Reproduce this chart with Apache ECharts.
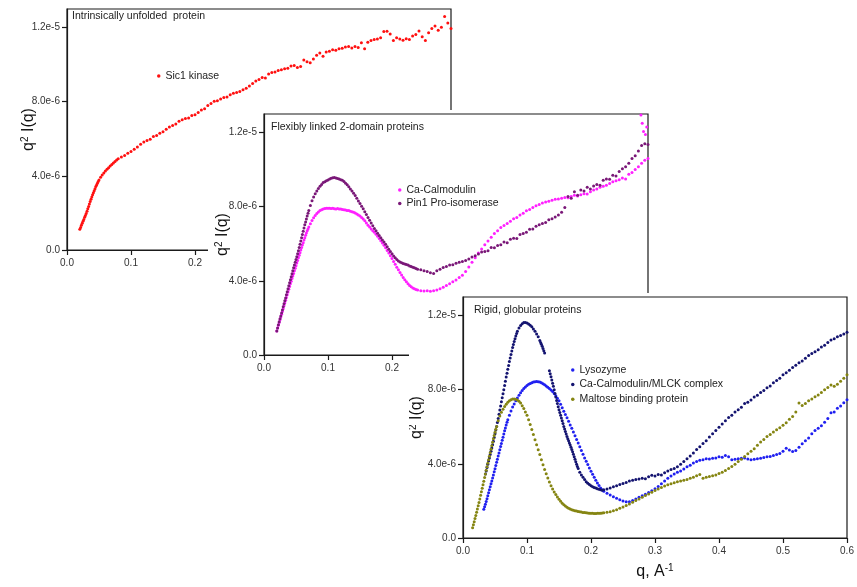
<!DOCTYPE html>
<html>
<head>
<meta charset="utf-8">
<script src="https://cdn.jsdelivr.net/npm/echarts@6/dist/echarts.min.js"></script>
<style>
  html, body { margin: 0; padding: 0; background: #fff; }
  body { width: 857px; height: 587px; position: relative; overflow: hidden; }
  .panel { position: absolute; background: #fff; }
  #p1 { left: 0; top: 0; width: 857px; height: 587px; background: transparent; }
  #p2 { left: 208px; top: 110px; width: 460px; height: 275px; }
  #p3 { left: 409px; top: 293px; width: 448px; height: 294px; }
</style>
</head>
<body>
<div id="p1" class="panel"></div>
<div id="p2" class="panel"></div>
<div id="p3" class="panel"></div>
<script>
// q in 1/A, q^2 I(q) values in units of 1e-6
var xTickLabels = ['0.0', '0.1', '0.2', '0.3', '0.4', '0.5', '0.6'];
var yTickValues = [0, 4, 8, 12];
var yTickLabels = ['0.0', '4.0e-6', '8.0e-6', '1.2e-5'];

var sic1 = [
[0.020,1.12],[0.02125,1.22],[0.0225,1.33],[0.02375,1.44],[0.025,1.55],[0.02625,1.65],[0.0275,1.76],[0.02875,1.86],
[0.030,1.97],[0.03125,2.09],[0.0325,2.22],[0.03375,2.35],[0.035,2.48],[0.03625,2.61],[0.0375,2.74],[0.03875,2.86],
[0.040,2.98],[0.04125,3.09],[0.0425,3.20],[0.04375,3.31],[0.045,3.42],[0.04625,3.51],[0.0475,3.60],[0.04875,3.69],
[0.050,3.78],[0.0525,3.92],[0.055,4.05],[0.0575,4.16],
[0.060,4.26],[0.0625,4.35],[0.065,4.44],[0.0675,4.53],[0.070,4.61],[0.0725,4.69],[0.075,4.77],[0.0775,4.85],
[0.080,4.92],[0.085,5.01],[0.090,5.10],[0.095,5.22],[0.100,5.32],[0.105,5.43],[0.110,5.55],[0.115,5.70],
[0.120,5.82],[0.125,5.90],[0.130,5.98],[0.135,6.12],[0.140,6.18],[0.145,6.30],[0.150,6.38],[0.155,6.52],
[0.160,6.63],[0.165,6.72],[0.170,6.80],[0.175,6.95],[0.180,7.02],[0.185,7.10],[0.190,7.12],[0.195,7.25],
[0.200,7.30],[0.205,7.42],[0.210,7.55],[0.215,7.62],[0.220,7.80],[0.225,7.90],[0.230,8.02],[0.235,8.05],
[0.240,8.15],[0.245,8.22],[0.250,8.25],[0.255,8.38],[0.260,8.45],[0.265,8.50],[0.270,8.55],[0.275,8.65],
[0.280,8.72],[0.285,8.85],[0.290,8.98],[0.295,9.12],[0.300,9.20],[0.305,9.30],[0.310,9.28],[0.315,9.50],
[0.320,9.58],[0.325,9.60],[0.330,9.68],[0.335,9.72],[0.340,9.78],[0.345,9.80],[0.350,9.92],[0.355,9.95],
[0.360,9.85],[0.365,9.90],[0.370,10.25],[0.375,10.15],[0.380,10.10],[0.385,10.30],[0.390,10.50],[0.395,10.62],
[0.400,10.45],[0.405,10.68],[0.410,10.72],[0.415,10.80],[0.420,10.78],[0.425,10.85],[0.430,10.88],[0.435,10.95],
[0.440,10.98],[0.445,10.90],[0.450,10.98],[0.455,10.92],[0.460,11.18],[0.465,10.85],[0.470,11.20],[0.475,11.30],
[0.480,11.35],[0.485,11.38],[0.490,11.45],[0.495,11.78],[0.500,11.80],[0.505,11.65],[0.510,11.30],[0.515,11.45],
[0.520,11.38],[0.525,11.32],[0.530,11.40],[0.535,11.36],[0.540,11.55],[0.545,11.62],[0.550,11.82],[0.555,11.50],
[0.560,11.30],[0.565,11.72],[0.570,11.95],[0.575,12.08],[0.580,11.86],[0.585,12.02],[0.590,12.60],[0.595,12.25],
[0.600,11.95]
];

var caCalmodulin = [
[0.020,1.30],[0.02125,1.45],[0.0225,1.60],[0.02375,1.75],[0.025,1.90],[0.02625,2.05],[0.0275,2.20],[0.02875,2.35],
[0.030,2.50],[0.03125,2.65],[0.0325,2.80],[0.03375,2.95],[0.035,3.10],[0.03625,3.25],[0.0375,3.40],[0.03875,3.55],
[0.040,3.70],[0.04125,3.84],[0.0425,3.98],[0.04375,4.12],[0.045,4.26],[0.04625,4.40],[0.0475,4.54],[0.04875,4.68],
[0.050,4.82],[0.05125,4.96],[0.0525,5.10],[0.05375,5.24],[0.055,5.38],[0.05625,5.52],[0.0575,5.66],[0.05875,5.80],
[0.060,5.93],[0.06125,6.06],[0.0625,6.20],[0.06375,6.33],[0.065,6.46],[0.06625,6.58],[0.0675,6.70],[0.06875,6.80],
[0.070,6.90],[0.0725,7.08],[0.075,7.25],[0.0775,7.40],
[0.080,7.52],[0.0825,7.63],[0.085,7.72],[0.0875,7.79],[0.090,7.84],[0.0925,7.88],[0.095,7.90],[0.0975,7.92],
[0.100,7.91],[0.1025,7.92],[0.105,7.90],[0.1075,7.91],[0.110,7.89],[0.1125,7.88],[0.115,7.90],[0.1175,7.87],
[0.120,7.88],[0.1225,7.85],[0.125,7.84],[0.1275,7.82],[0.130,7.80],[0.1325,7.79],[0.135,7.76],[0.1375,7.73],
[0.140,7.70],[0.1425,7.66],[0.145,7.60],[0.1475,7.55],[0.150,7.50],[0.1525,7.42],[0.155,7.34],[0.1575,7.24],
[0.160,7.12],[0.1625,7.00],[0.165,6.90],[0.1675,6.80],[0.170,6.70],[0.1725,6.62],[0.175,6.52],[0.1775,6.40],
[0.180,6.28],[0.1825,6.16],[0.185,6.04],[0.1875,5.92],[0.190,5.78],[0.1925,5.64],[0.195,5.50],[0.1975,5.35],
[0.200,5.20],[0.2025,5.05],[0.205,4.90],[0.2075,4.74],[0.210,4.60],[0.2125,4.45],[0.215,4.32],[0.2175,4.18],
[0.220,4.06],[0.2225,3.95],[0.225,3.84],[0.2275,3.75],[0.230,3.68],[0.2325,3.62],[0.235,3.57],[0.2375,3.53],
[0.240,3.50],[0.245,3.47],[0.250,3.45],[0.255,3.46],[0.260,3.44],[0.265,3.47],[0.270,3.50],[0.275,3.58],
[0.280,3.65],[0.285,3.75],[0.290,3.85],[0.295,3.95],[0.300,4.05],[0.305,4.18],[0.310,4.30],[0.315,4.50],
[0.320,4.75],[0.325,5.00],[0.330,5.25],[0.335,5.50],[0.340,5.72],[0.345,5.95],[0.350,6.15],[0.355,6.35],
[0.360,6.55],[0.365,6.70],[0.370,6.88],[0.375,6.98],[0.380,7.10],[0.385,7.22],[0.390,7.35],[0.395,7.42],
[0.400,7.55],[0.405,7.65],[0.410,7.78],[0.415,7.85],[0.420,7.95],[0.425,8.05],[0.430,8.12],[0.435,8.20],
[0.440,8.25],[0.445,8.30],[0.450,8.35],[0.455,8.40],[0.460,8.42],[0.465,8.45],[0.470,8.50],[0.475,8.48],
[0.480,8.55],[0.485,8.62],[0.490,8.58],[0.495,8.65],[0.500,8.70],[0.505,8.68],[0.510,8.80],[0.515,8.90],
[0.520,8.95],[0.525,9.05],[0.530,9.10],[0.535,9.15],[0.540,9.25],[0.545,9.35],[0.550,9.40],[0.555,9.45],
[0.560,9.55],[0.565,9.50],[0.570,9.75],[0.575,9.85],[0.580,10.00],[0.585,10.15],[0.590,10.35],[0.595,10.50],
[0.600,10.60],[0.589,12.95],[0.591,12.50],[0.593,12.05],[0.596,11.90],[0.598,12.30]
];

var pin1 = [
[0.020,1.30],[0.02125,1.46],[0.0225,1.63],[0.02375,1.79],[0.025,1.95],[0.02625,2.11],[0.0275,2.27],[0.02875,2.43],
[0.030,2.60],[0.03125,2.76],[0.0325,2.92],[0.03375,3.08],[0.035,3.25],[0.03625,3.41],[0.0375,3.58],[0.03875,3.74],
[0.040,3.90],[0.04125,4.06],[0.0425,4.22],[0.04375,4.38],[0.045,4.54],[0.04625,4.70],[0.0475,4.85],[0.04875,5.00],
[0.050,5.15],[0.05125,5.30],[0.0525,5.46],[0.05375,5.63],[0.055,5.80],[0.05625,5.97],[0.0575,6.15],[0.05875,6.32],
[0.060,6.50],[0.06125,6.67],[0.0625,6.85],[0.06375,7.02],[0.065,7.18],[0.06625,7.34],[0.0675,7.50],[0.06875,7.65],
[0.070,7.80],[0.0725,8.07],[0.075,8.32],[0.0775,8.52],
[0.080,8.70],[0.0825,8.84],[0.085,8.98],[0.0875,9.10],[0.090,9.20],[0.0925,9.30],[0.095,9.34],[0.0975,9.40],
[0.100,9.44],[0.1025,9.50],[0.105,9.53],[0.1075,9.56],[0.110,9.57],[0.1125,9.55],[0.115,9.52],[0.1175,9.50],
[0.120,9.46],[0.1225,9.42],[0.125,9.36],[0.1275,9.27],[0.130,9.18],[0.1325,9.07],[0.135,8.96],[0.1375,8.85],
[0.140,8.73],[0.1425,8.60],[0.145,8.46],[0.1475,8.31],[0.150,8.17],[0.1525,8.03],[0.155,7.89],[0.1575,7.73],
[0.160,7.58],[0.1625,7.42],[0.165,7.27],[0.1675,7.12],[0.170,6.97],[0.1725,6.82],[0.175,6.70],[0.1775,6.57],
[0.180,6.45],[0.1825,6.33],[0.185,6.21],[0.1875,6.10],[0.190,5.97],[0.1925,5.84],[0.195,5.70],[0.1975,5.58],
[0.200,5.46],[0.2025,5.34],[0.205,5.24],[0.2075,5.15],[0.210,5.07],[0.2125,5.01],[0.215,4.97],[0.2175,4.94],
[0.220,4.91],[0.2225,4.88],[0.225,4.85],[0.2275,4.80],[0.230,4.77],[0.2325,4.73],[0.235,4.70],[0.2375,4.66],
[0.240,4.63],[0.245,4.60],[0.250,4.55],[0.255,4.50],[0.260,4.43],[0.265,4.40],[0.270,4.55],[0.275,4.62],
[0.280,4.72],[0.285,4.78],[0.290,4.85],[0.295,4.87],[0.300,4.95],[0.305,5.00],[0.310,5.05],[0.315,5.10],
[0.320,5.18],[0.325,5.28],[0.330,5.35],[0.335,5.45],[0.340,5.55],[0.345,5.58],[0.350,5.62],[0.355,5.80],
[0.360,5.78],[0.365,5.90],[0.370,5.95],[0.375,6.10],[0.380,6.05],[0.385,6.25],[0.390,6.30],[0.395,6.28],
[0.400,6.50],[0.405,6.55],[0.410,6.62],[0.415,6.78],[0.420,6.80],[0.425,6.95],[0.430,7.02],[0.435,7.10],
[0.440,7.15],[0.445,7.30],[0.450,7.35],[0.455,7.45],[0.460,7.55],[0.465,7.70],[0.470,7.95],[0.475,8.55],
[0.480,8.45],[0.485,8.80],[0.490,8.62],[0.495,8.90],[0.500,8.85],[0.505,9.05],[0.510,8.95],[0.515,9.12],
[0.520,9.20],[0.525,9.15],[0.530,9.42],[0.535,9.50],[0.540,9.48],[0.545,9.70],[0.550,9.65],[0.555,9.90],
[0.560,10.05],[0.565,10.15],[0.570,10.35],[0.575,10.60],[0.580,10.75],[0.585,11.00],[0.590,11.30],[0.595,11.40],
[0.600,11.35]
];

var lysozyme = [
[0.0325,1.55],[0.03375,1.68],[0.035,1.82],[0.03625,1.97],[0.0375,2.12],[0.03875,2.28],[0.040,2.44],[0.04125,2.60],
[0.0425,2.76],[0.04375,2.92],[0.045,3.08],[0.04625,3.24],[0.0475,3.40],[0.04875,3.57],[0.050,3.74],[0.05125,3.91],
[0.0525,4.08],[0.05375,4.25],[0.055,4.42],[0.05625,4.59],[0.0575,4.76],[0.05875,4.93],[0.060,5.10],[0.06125,5.27],
[0.0625,5.44],[0.06375,5.61],[0.065,5.78],[0.06625,5.94],[0.0675,6.10],[0.06875,6.24],[0.070,6.38],
[0.0725,6.62],[0.075,6.85],[0.0775,7.06],[0.080,7.23],[0.0825,7.40],[0.085,7.55],[0.0875,7.70],[0.090,7.83],
[0.0925,7.95],[0.095,8.06],[0.0975,8.15],[0.100,8.22],[0.1025,8.29],[0.105,8.34],[0.1075,8.38],[0.110,8.41],
[0.1125,8.43],[0.115,8.44],[0.1175,8.43],[0.120,8.41],[0.1225,8.37],[0.125,8.32],[0.1275,8.27],[0.130,8.20],
[0.1325,8.13],[0.135,8.06],[0.1375,7.98],[0.140,7.90],[0.1425,7.80],[0.145,7.67],[0.1475,7.54],[0.150,7.40],
[0.1525,7.22],[0.155,7.02],[0.1575,6.84],[0.160,6.66],[0.1625,6.48],[0.165,6.30],[0.1675,6.10],[0.170,5.92],
[0.1725,5.72],[0.175,5.52],[0.1775,5.32],[0.180,5.12],[0.1825,4.92],[0.185,4.72],[0.1875,4.52],[0.190,4.32],
[0.1925,4.14],[0.195,3.96],[0.1975,3.78],[0.200,3.60],[0.2025,3.44],[0.205,3.28],[0.2075,3.12],[0.210,2.97],
[0.2125,2.83],[0.215,2.70],[0.2175,2.60],[0.220,2.52],[0.225,2.42],[0.230,2.32],[0.235,2.22],[0.240,2.14],
[0.245,2.06],[0.250,2.00],[0.255,1.96],[0.260,1.95],[0.265,2.02],[0.270,2.10],[0.275,2.20],[0.280,2.28],
[0.285,2.36],[0.290,2.45],[0.295,2.55],[0.300,2.66],[0.305,2.78],[0.310,2.92],[0.315,3.08],[0.320,3.22],
[0.325,3.35],[0.330,3.45],[0.335,3.54],[0.340,3.62],[0.345,3.72],[0.350,3.85],[0.355,3.92],[0.360,4.05],
[0.365,4.12],[0.370,4.20],[0.375,4.22],[0.380,4.28],[0.385,4.26],[0.390,4.30],[0.395,4.32],[0.400,4.38],
[0.405,4.35],[0.410,4.45],[0.415,4.38],[0.420,4.22],[0.425,4.25],[0.430,4.28],[0.435,4.30],[0.440,4.32],
[0.445,4.26],[0.450,4.22],[0.455,4.25],[0.460,4.28],[0.465,4.30],[0.470,4.34],[0.475,4.38],[0.480,4.40],
[0.485,4.45],[0.490,4.50],[0.495,4.56],[0.500,4.68],[0.505,4.84],[0.510,4.75],[0.515,4.66],[0.520,4.72],
[0.525,4.90],[0.530,5.08],[0.535,5.25],[0.540,5.40],[0.545,5.62],[0.550,5.80],[0.555,5.92],[0.560,6.05],
[0.565,6.25],[0.570,6.45],[0.575,6.75],[0.580,6.80],[0.585,7.00],[0.590,7.12],[0.595,7.30],[0.600,7.46]
];

var mlckComplex = [
[0.035,3.45],[0.03625,3.62],[0.0375,3.80],[0.03875,3.98],[0.040,4.15],[0.04125,4.32],[0.0425,4.50],[0.04375,4.68],
[0.045,4.85],[0.04625,5.03],[0.0475,5.22],[0.04875,5.42],[0.050,5.62],[0.05125,5.82],[0.0525,6.02],[0.05375,6.23],
[0.055,6.45],[0.05625,6.68],[0.0575,6.90],[0.05875,7.12],[0.060,7.35],[0.06125,7.56],[0.0625,7.78],[0.06375,8.00],
[0.065,8.22],[0.06625,8.45],[0.0675,8.68],[0.06875,8.89],[0.070,9.10],[0.07125,9.31],[0.0725,9.52],[0.07375,9.71],
[0.075,9.90],[0.07625,10.09],[0.0775,10.28],[0.07875,10.44],[0.080,10.60],[0.08125,10.75],[0.0825,10.90],[0.08375,11.03],
[0.085,11.15],[0.0875,11.33],[0.090,11.46],[0.0925,11.56],
[0.095,11.62],[0.0975,11.63],[0.100,11.60],[0.1025,11.55],[0.105,11.48],[0.1075,11.40],[0.110,11.28],[0.1125,11.15],
[0.115,11.00],[0.1175,10.85],[0.120,10.65],[0.12125,10.55],[0.1225,10.45],[0.12375,10.34],[0.125,10.22],[0.12625,10.10],
[0.1275,9.98],[0.135,9.02],[0.13625,8.86],[0.1375,8.70],[0.13875,8.52],
[0.140,8.35],[0.14125,8.18],[0.1425,8.00],[0.14375,7.80],[0.145,7.60],[0.14625,7.42],[0.1475,7.25],[0.14875,7.08],
[0.150,6.92],[0.15125,6.77],[0.1525,6.62],[0.15375,6.47],[0.155,6.32],[0.15625,6.17],[0.1575,6.02],[0.15875,5.88],
[0.160,5.75],[0.16125,5.61],[0.1625,5.48],[0.16375,5.36],[0.165,5.25],[0.16625,5.13],[0.1675,5.02],[0.16875,4.90],
[0.170,4.78],[0.17125,4.65],[0.1725,4.52],[0.17375,4.38],[0.175,4.25],[0.17625,4.11],[0.1775,3.98],[0.17875,3.86],
[0.180,3.75],[0.1825,3.55],[0.185,3.40],[0.1875,3.28],[0.190,3.15],[0.1925,3.04],[0.195,2.95],[0.1975,2.88],
[0.200,2.82],[0.2025,2.77],[0.205,2.73],[0.2075,2.70],[0.210,2.66],[0.2125,2.63],[0.215,2.60],[0.2175,2.58],
[0.220,2.60],[0.225,2.64],[0.230,2.70],[0.235,2.76],[0.240,2.82],[0.245,2.88],[0.250,2.94],[0.255,3.00],
[0.260,3.08],[0.265,3.12],[0.270,3.15],[0.275,3.18],[0.280,3.22],[0.285,3.20],[0.290,3.30],[0.295,3.38],
[0.300,3.35],[0.305,3.42],[0.310,3.40],[0.315,3.52],[0.320,3.62],[0.325,3.70],[0.330,3.75],[0.335,3.85],
[0.340,3.98],[0.345,4.12],[0.350,4.28],[0.355,4.42],[0.360,4.58],[0.365,4.78],[0.370,4.92],[0.375,5.10],
[0.380,5.25],[0.385,5.45],[0.390,5.62],[0.395,5.80],[0.400,5.98],[0.405,6.15],[0.410,6.32],[0.415,6.50],
[0.420,6.62],[0.425,6.80],[0.430,6.92],[0.435,7.05],[0.440,7.25],[0.445,7.32],[0.450,7.45],[0.455,7.60],
[0.460,7.70],[0.465,7.85],[0.470,7.95],[0.475,8.10],[0.480,8.20],[0.485,8.38],[0.490,8.50],[0.495,8.62],
[0.500,8.80],[0.505,8.92],[0.510,9.05],[0.515,9.20],[0.520,9.32],[0.525,9.45],[0.530,9.55],[0.535,9.70],
[0.540,9.85],[0.545,9.95],[0.550,10.05],[0.555,10.15],[0.560,10.30],[0.565,10.40],[0.570,10.55],[0.575,10.68],
[0.580,10.75],[0.585,10.85],[0.590,10.92],[0.595,11.00],[0.600,11.10]
];

var maltose = [
[0.015,0.55],[0.01625,0.72],[0.0175,0.88],[0.01875,1.05],[0.020,1.22],[0.02125,1.39],[0.0225,1.56],[0.02375,1.74],
[0.025,1.92],[0.02625,2.11],[0.0275,2.30],[0.02875,2.49],[0.030,2.68],[0.03125,2.87],[0.0325,3.06],[0.03375,3.26],
[0.035,3.45],[0.03625,3.65],[0.0375,3.84],[0.03875,4.03],[0.040,4.22],[0.04125,4.41],[0.0425,4.60],[0.04375,4.79],
[0.045,4.98],[0.04625,5.17],[0.0475,5.36],[0.04875,5.53],[0.050,5.70],[0.05125,5.86],[0.0525,6.02],
[0.055,6.32],[0.0575,6.58],[0.060,6.78],[0.0625,6.95],[0.065,7.10],[0.0675,7.22],[0.070,7.32],[0.0725,7.40],
[0.075,7.46],[0.0775,7.50],[0.080,7.50],[0.0825,7.48],[0.085,7.44],[0.0875,7.38],[0.090,7.28],[0.0925,7.14],
[0.095,6.98],[0.0975,6.80],[0.100,6.62],[0.1025,6.38],[0.105,6.12],[0.1075,5.85],[0.110,5.58],[0.1125,5.30],
[0.115,5.03],[0.1175,4.76],[0.120,4.50],[0.1225,4.22],[0.125,3.95],[0.1275,3.70],[0.130,3.46],[0.1325,3.23],
[0.135,3.02],[0.1375,2.82],[0.140,2.64],[0.1425,2.48],[0.145,2.34],[0.1475,2.21],[0.150,2.09],[0.1525,1.98],
[0.155,1.88],[0.1575,1.80],[0.160,1.72],[0.1625,1.66],[0.165,1.61],[0.1675,1.57],[0.170,1.53],[0.1725,1.50],
[0.175,1.47],[0.1775,1.45],[0.180,1.43],[0.1825,1.41],[0.185,1.40],[0.1875,1.38],[0.190,1.37],[0.1925,1.36],
[0.195,1.35],[0.1975,1.34],[0.200,1.33],[0.2025,1.33],[0.205,1.32],[0.2075,1.32],[0.210,1.33],[0.2125,1.33],
[0.215,1.34],[0.2175,1.35],[0.220,1.36],[0.225,1.39],[0.230,1.42],[0.235,1.47],[0.240,1.53],[0.245,1.60],
[0.250,1.67],[0.255,1.75],[0.260,1.84],[0.265,1.93],[0.270,2.02],[0.275,2.11],[0.280,2.20],[0.285,2.29],
[0.290,2.38],[0.295,2.47],[0.300,2.56],[0.305,2.64],[0.310,2.72],[0.315,2.80],[0.320,2.87],[0.325,2.93],
[0.330,2.98],[0.335,3.04],[0.340,3.08],[0.345,3.12],[0.350,3.16],[0.355,3.22],[0.360,3.28],[0.365,3.36],
[0.370,3.42],[0.375,3.22],[0.380,3.28],[0.385,3.32],[0.390,3.36],[0.395,3.40],[0.400,3.48],[0.405,3.55],
[0.410,3.64],[0.415,3.75],[0.420,3.86],[0.425,3.98],[0.430,4.12],[0.435,4.25],[0.440,4.40],[0.445,4.55],
[0.450,4.68],[0.455,4.82],[0.460,5.00],[0.465,5.18],[0.470,5.32],[0.475,5.48],[0.480,5.58],[0.485,5.72],
[0.490,5.84],[0.495,5.95],[0.500,6.08],[0.505,6.22],[0.510,6.40],[0.515,6.55],[0.520,6.80],[0.525,7.28],
[0.530,7.15],[0.535,7.25],[0.540,7.40],[0.545,7.50],[0.550,7.62],[0.555,7.72],[0.560,7.85],[0.565,8.00],
[0.570,8.12],[0.575,8.25],[0.580,8.18],[0.585,8.30],[0.590,8.45],[0.595,8.62],[0.600,8.80]
];

var FONT = '"Liberation Sans", Arial, Helvetica, sans-serif';
var AXIS_COLOR = '#1a1a1a';

function makeOption(cfg) {
    var nameStyle = {
        fontSize: 16, color: '#111', fontFamily: FONT,
        rich: { s: { fontSize: 10, verticalAlign: 'top', padding: [0, 0, 8, 0], color: '#111', fontFamily: FONT } }
    };
    return {
        animation: false,
        textStyle: { fontFamily: FONT },
        title: {
            text: cfg.title,
            left: cfg.titlePos[0],
            top: cfg.titlePos[1],
            padding: 0,
            textStyle: { fontSize: 10.5, fontWeight: 'normal', color: '#222', fontFamily: FONT }
        },
        legend: {
            orient: 'vertical',
            left: cfg.legendPos[0],
            top: cfg.legendPos[1],
            padding: 0,
            icon: 'circle',
            itemWidth: 3.5,
            itemHeight: 3.5,
            itemGap: cfg.legendGap,
            textStyle: { fontSize: 10.5, color: '#222', fontFamily: FONT, lineHeight: 12 },
            data: cfg.series.map(function (s) { return s.name; })
        },
        grid: {
            left: cfg.grid[0], top: cfg.grid[1], width: 384, height: 241,
            containLabel: false,
            outerBoundsMode: 'none',
            show: true,
            borderColor: AXIS_COLOR,
            borderWidth: 1.2,
            backgroundColor: 'transparent'
        },
        xAxis: {
            type: 'value',
            min: 0, max: 0.6, interval: 0.1,
            name: cfg.xName || '',
            nameLocation: 'middle',
            nameGap: 25,
            nameMoveOverlap: false,
            nameTextStyle: nameStyle,
            axisLine: { show: true, lineStyle: { color: AXIS_COLOR, width: 1.2 } },
            axisTick: { show: true, length: 5, lineStyle: { color: AXIS_COLOR, width: 1.2 } },
            axisLabel: {
                fontSize: 10, color: '#333', margin: 8, fontFamily: FONT,
                formatter: function (v) { var l = xTickLabels[Math.round(v * 10)]; return l === undefined ? '' : l; }
            },
            splitLine: { show: false }
        },
        yAxis: {
            type: 'value',
            min: 0, max: 13,
            name: 'q{s|2} I(q)',
            nameLocation: 'middle',
            nameRotate: 90,
            nameGap: cfg.yNameGap,
            nameMoveOverlap: false,
            nameTextStyle: nameStyle,
            axisLine: { show: true, lineStyle: { color: AXIS_COLOR, width: 1.2 } },
            axisTick: { show: true, length: 5, customValues: yTickValues, lineStyle: { color: AXIS_COLOR, width: 1.2 } },
            axisLabel: {
                fontSize: 10, color: '#333', margin: 7, fontFamily: FONT,
                customValues: yTickValues,
                formatter: function (v) { var i = yTickValues.indexOf(v); return i < 0 ? '' : yTickLabels[i]; }
            },
            splitLine: { show: false }
        },
        series: cfg.series.map(function (s) {
            return {
                name: s.name,
                type: 'scatter',
                data: s.data,
                symbol: 'circle',
                symbolSize: 3,
                silent: true,
                itemStyle: { color: s.color, opacity: 1 }
            };
        })
    };
}

var chart1 = echarts.init(document.getElementById('p1'));
chart1.setOption(makeOption({
    title: 'Intrinsically unfolded  protein',
    titlePos: [72, 11],
    legendPos: [157, 70],
    legendGap: 2,
    grid: [67, 9],
    yNameGap: 29,
    series: [{ name: 'Sic1 kinase', data: sic1, color: '#ff1010' }]
}));

var chart2 = echarts.init(document.getElementById('p2'));
chart2.setOption(makeOption({
    title: 'Flexibly linked 2-domain proteins',
    titlePos: [63, 12],
    legendPos: [190, 74],
    legendGap: 1.6,
    grid: [56, 4],
    yNameGap: 32,
    series: [
        { name: 'Ca-Calmodulin', data: caCalmodulin, color: '#ff20ff' },
        { name: 'Pin1 Pro-isomerase', data: pin1, color: '#7a1878' }
    ]
}));

var chart3 = echarts.init(document.getElementById('p3'));
chart3.setOption(makeOption({
    title: 'Rigid, globular proteins',
    titlePos: [65, 12],
    legendPos: [162, 71],
    legendGap: 2.6,
    grid: [54, 4],
    yNameGap: 37,
    xName: 'q, A{s|-1}',
    series: [
        { name: 'Lysozyme', data: lysozyme, color: '#2020f0' },
        { name: 'Ca-Calmodulin/MLCK complex', data: mlckComplex, color: '#141470' },
        { name: 'Maltose binding protein', data: maltose, color: '#858512' }
    ]
}));
</script>
</body>
</html>
